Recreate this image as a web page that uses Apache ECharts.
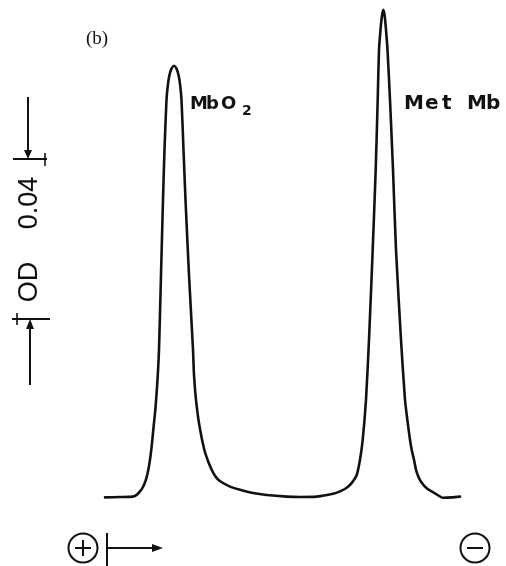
<!DOCTYPE html>
<html>
<head>
<meta charset="utf-8">
<script src="https://cdn.jsdelivr.net/npm/echarts@6/dist/echarts.min.js"></script>
<style>
  html, body { margin: 0; padding: 0; background: #fff; }
  #chart { width: 506px; height: 566px; }
</style>
</head>
<body>
<div id="chart"></div>
<script>
// Densitometer scan of the electrophoresis strip: migration distance (mm) vs optical density.
const distance = [
  0.0, 3.0, 5.6, 6.4, 7.0, 7.6, 8.1, 8.5, 8.9, 9.3, 9.7, 10.1, 10.5, 10.8, 11.2, 11.6, 11.9, 12.3, 12.6, 12.9, 13.3,
  13.8,
  14.3, 14.7, 15.0, 15.3, 15.7, 16.1, 16.8, 17.6, 17.8, 18.2, 18.86, 19.86, 20.66, 21.34, 22.0, 22.66, 23.6, 25.0, 27.0, 29.6, 32.34, 36.34, 39.0, 42.34,
  45.6, 47.0, 48.34, 49.4, 50.34, 51.0, 51.54, 52.2, 52.8, 53.54, 54.14, 54.54, 54.8, 55.1, 55.4,
  55.66,
  55.94, 56.2, 56.5, 57.0, 57.6, 58.2, 59.2, 60.0, 60.6, 61.0, 61.34, 61.8, 62.2, 62.6, 63.2, 64.4, 66.0, 67.6, 69.4, 71.0
];
const od = [
  -0.0001, 0.0000, 0.0001, 0.0006, 0.0014, 0.0025, 0.0040, 0.0058, 0.0085, 0.0123, 0.0173, 0.0223, 0.0293, 0.0368, 0.0555, 0.0743, 0.0868, 0.0993, 0.1033, 0.1055, 0.1071,
  0.1078,
  0.1071, 0.1055, 0.1033, 0.0993, 0.0868, 0.0743, 0.0555, 0.0368, 0.0305, 0.0243, 0.0180, 0.0118, 0.0088, 0.0068, 0.0053, 0.0043, 0.0035, 0.0026, 0.0018, 0.0010, 0.0005, 0.0001, 0.0000, 0.0001,
  0.0008, 0.0014, 0.0023, 0.0036, 0.0055, 0.0093, 0.0143, 0.0243, 0.0393, 0.0618, 0.0818, 0.0993, 0.1118, 0.1168, 0.1203,
  0.1218,
  0.1203, 0.1168, 0.1118, 0.0993, 0.0818, 0.0618, 0.0393, 0.0243, 0.0180, 0.0143, 0.0118, 0.0093, 0.0068, 0.0053, 0.0038, 0.0021, 0.0009, -0.0002, -0.0001, 0.0001
];
// Scale bar: 0.04 OD, drawn from this baseline value upward
const scaleBarFrom = 0.0445;
const scaleBarSpan = 0.04;

const chart = echarts.init(document.getElementById('chart'), null, { renderer: 'canvas' });
const ink = '#111';

chart.setOption({
  backgroundColor: '#fff',
  animation: false,
  grid: { left: 105, right: 46, top: 1, bottom: 61 },
  xAxis: { type: 'value', min: 0, max: 71, show: false },
  yAxis: { type: 'value', min: -0.002, max: 0.124, show: false },
  series: [{
    type: 'line',
    data: distance.map((d, i) => [d, od[i]]),
    showSymbol: false,
    symbol: 'none',
    smooth: 0.2,
    lineStyle: { color: ink, width: 2.6, cap: 'round', join: 'round' }
  }]
});

const yTop = chart.convertToPixel({ gridIndex: 0 }, [0, scaleBarFrom + scaleBarSpan])[1];
const yBot = chart.convertToPixel({ gridIndex: 0 }, [0, scaleBarFrom])[1];

const line = (x1, y1, x2, y2, w) => ({
  type: 'line', shape: { x1, y1, x2, y2 }, style: { stroke: ink, lineWidth: w || 2 }
});
const tri = (pts) => ({ type: 'polygon', shape: { points: pts }, style: { fill: ink } });
const txt = (x, y, text, font) => ({
  type: 'text', x, y,
  style: { text, font, fill: ink, align: 'left', verticalAlign: 'middle' }
});
// spaced lettering: each glyph placed at its own x
const spaced = (xs, y, chars, font) => chars.map((c, i) => txt(xs[i], y, c, font));

const peakFont = 'bold 18px "DejaVu Sans"';
const metFont = 'bold 20px "DejaVu Sans"';

chart.setOption({
  graphic: [
    // panel label
    txt(86, 39, '(b)', '19px "Liberation Serif"'),
    // peak labels
    ...spaced([190, 206, 221], 104, ['M', 'b', 'O'], peakFont),
    txt(242, 111, '2', 'bold 14px "DejaVu Sans"'),
    ...spaced([404, 425, 442], 104, ['M', 'e', 't'], metFont),
    ...spaced([467, 486], 104, ['M', 'b'], metFont),
    // OD scale bar
    line(28, 97, 28, yTop - 6, 2),
    tri([[24, yTop - 9], [32, yTop - 9], [28, yTop]]),
    line(13, yTop, 47, yTop, 2),
    line(45, yTop - 6, 45, yTop + 7, 1.6),
    line(12, yBot, 50, yBot, 2),
    line(17, yBot - 6, 17, yBot + 6, 1.6),
    tri([[26, yBot + 10], [34, yBot + 10], [30, yBot]]),
    line(30, yBot + 8, 30, 385, 2),
    {
      type: 'text', x: 30, y: (yTop + yBot) / 2 - 36, rotation: Math.PI / 2,
      style: { text: '0.04', font: '27px "Liberation Sans"', fill: ink, align: 'center', verticalAlign: 'middle' }
    },
    {
      type: 'text', x: 30, y: (yTop + yBot) / 2 + 43, rotation: Math.PI / 2,
      style: { text: 'OD', font: '27px "Liberation Sans"', fill: ink, align: 'center', verticalAlign: 'middle' }
    },
    // electrode polarity and migration direction
    { type: 'circle', shape: { cx: 83, cy: 548, r: 14.5 }, style: { fill: 'none', stroke: ink, lineWidth: 2 } },
    line(75, 548, 91, 548, 2),
    line(83, 540, 83, 556, 2),
    line(107, 533, 107, 566, 2),
    line(107, 548, 155, 548, 2),
    tri([[152, 544], [163, 548], [152, 552]]),
    { type: 'circle', shape: { cx: 475, cy: 548, r: 14.5 }, style: { fill: 'none', stroke: ink, lineWidth: 2 } },
    line(467, 548, 483, 548, 2)
  ]
});
</script>
</body>
</html>
